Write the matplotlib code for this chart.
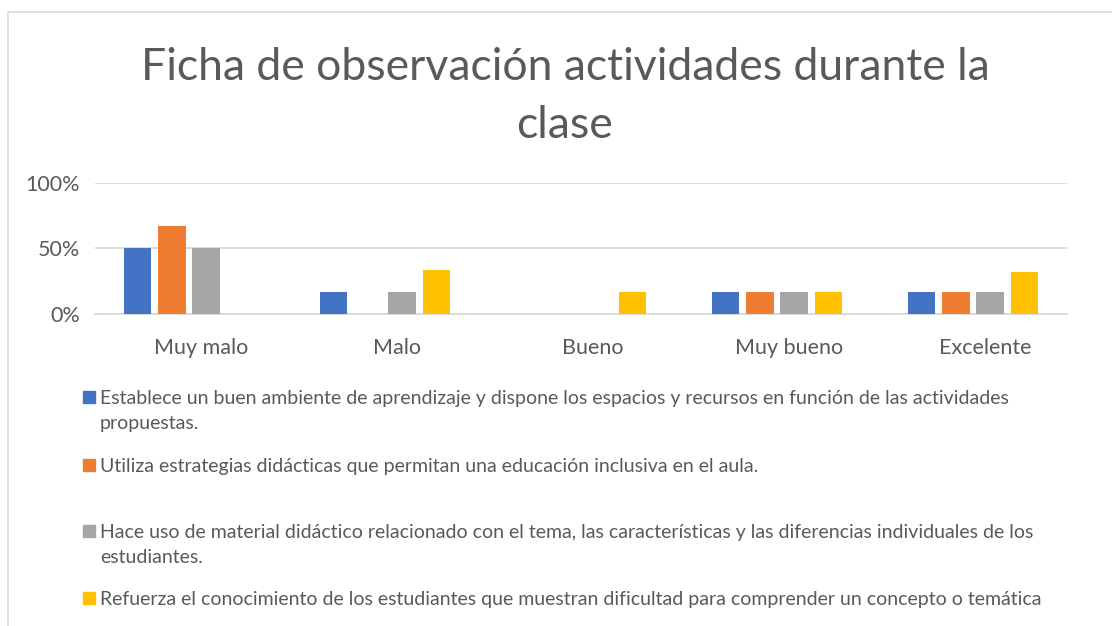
import matplotlib.pyplot as plt
import numpy as np
from matplotlib.patches import Rectangle
from matplotlib.transforms import ScaledTranslation

# Datos del gráfico
categorias = ["Muy malo", "Malo", "Bueno", "Muy bueno", "Excelente"]
serie_1 = [0.50, 0.1667, 0.0, 0.1667, 0.1667]
serie_2 = [0.6667, 0.0, 0.0, 0.1667, 0.1667]
serie_3 = [0.50, 0.1667, 0.0, 0.1667, 0.1667]
serie_4 = [0.0, 0.3333, 0.1667, 0.1667, 0.32]
etiquetas = [
    "Establece un buen ambiente de aprendizaje y dispone los espacios y recursos en función de las actividades\npropuestas.",
    "Utiliza estrategias didácticas que permitan una educación inclusiva en el aula.",
    "Hace uso de material didáctico relacionado con el tema, las características y las diferencias individuales de los\nestudiantes.",
    "Refuerza el conocimiento de los estudiantes que muestran dificultad para comprender un concepto o temática",
]
colores = ["#4472C4", "#ED7D31", "#A5A5A5", "#FFC000"]
yticks = [0, 0.5, 1.0]
ytick_labels = ["0%", "50%", "100%"]

plt.rcParams['font.family'] = ['Lato', 'DejaVu Sans']
gris_texto = "#595959"

W, H = 1112, 626
fig = plt.figure(figsize=(W / 100, H / 100), dpi=100)

# marco del gráfico
fig.patches.append(Rectangle((8 / W, -0.1), 1.2, 1 - 12 / H + 0.1, transform=fig.transFigure,
                             fill=False, edgecolor="#d9d9d9", linewidth=1.2))

ax = fig.add_axes([95 / W, 1 - 314 / H, (1067 - 95) / W, (314 - 182.7) / H])
x = np.arange(len(categorias))
series = [serie_1, serie_2, serie_3, serie_4]
paso = 0.175
ancho = 0.14
for i, (vals, col) in enumerate(zip(series, colores)):
    ax.bar(x + (i - 1.5) * paso, vals, width=ancho, color=col, zorder=3)

ax.set_xlim(-0.48, len(categorias) - 0.52)
ax.set_ylim(0, 1.0)
ax.set_yticks(yticks)
ax.set_yticklabels(ytick_labels, fontsize=15.5, color=gris_texto)
ax.set_xticks(x)
ax.set_xticklabels(categorias, fontsize=15.5, color=gris_texto)
ax.tick_params(axis="x", length=0, pad=17)
ax.tick_params(axis="y", length=0, pad=11)
desplaza = ScaledTranslation(12 / 100, 0, fig.dpi_scale_trans)
for t in ax.get_xticklabels():
    t.set_transform(t.get_transform() + desplaza)
ax.grid(axis="y", color="#d9d9d9", linewidth=1.3, zorder=0)
for s in ["top", "right", "left"]:
    ax.spines[s].set_visible(False)
ax.spines["bottom"].set_color("#d9d9d9")
ax.spines["bottom"].set_linewidth(1.3)

fig.text(0.508, 1 - 68 / H, "Ficha de observación actividades durante la", ha="center", va="center",
         fontsize=32, color=gris_texto)
fig.text(0.508, 1 - 125 / H, "clase", ha="center", va="center", fontsize=32, color=gris_texto)

# leyenda
y_leyenda = [398, 466, 532, 599]
for lab, col, yy in zip(etiquetas, colores, y_leyenda):
    fig.patches.append(Rectangle((83 / W, 1 - (yy + 5) / H), 12 / W, 12 / H,
                                 transform=fig.transFigure, color=col))
    fig.text(100 / W, 1 - (yy - 8) / H, lab, ha="left", va="top", fontsize=14,
             color=gris_texto, linespacing=1.55)

fig.savefig("out.png", dpi=100)
